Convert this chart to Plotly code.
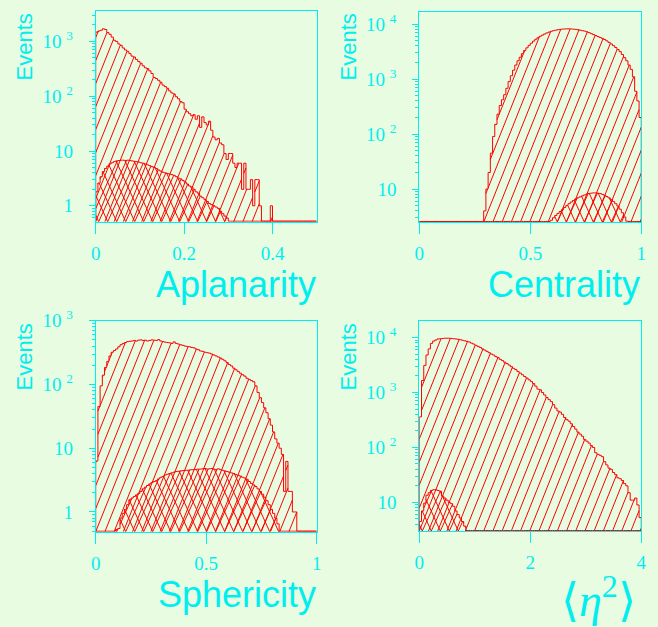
import numpy as np
import plotly.graph_objects as go

W, H = 658, 627
BG = "#e8fce2"
CY = "#00eeee"
RED = "#ff0000"

# ---------------- data (bin contents, 100 bins per histogram) ----------------
apl_all = [1480, 1550, 1600, 1700, 1650, 1450, 1350, 1200, 1050, 1000,
           900, 850, 760, 700, 660, 600, 540, 520, 470, 430,
           400, 360, 330, 320, 290, 260, 220, 210, 195, 180,
           160, 150, 140, 125, 115, 110, 98, 90, 80, 76,
           58, 52, 48, 44, 46, 38, 44, 27, 42, 33,
           30, 35, 24, 18, 16, 17, 14, 13, 9, 7,
           9, 9, 6, 5, 6, 6, 2, 6, 2, 2,
           3, 1, 3, 3, 1, 0, 0, 0, 0, 1,
           0, 0, 0, 0, 0, 0, 0, 0, 0, 0,
           0, 0, 0, 0, 0, 0, 0, 0, 0, 0]
apl_sig = [1.8, 2.6, 3.4, 4.2, 4.8, 5.3, 5.8, 6.1, 6.4, 6.6,
           6.7, 6.8, 6.8, 6.7, 6.8, 6.7, 6.6, 6.5, 6.4, 6.3,
           6.1, 6.0, 5.8, 5.6, 5.4, 5.2, 5.0, 4.8, 4.5, 4.3,
           4.1, 4.0, 3.9, 3.8, 3.7, 3.6, 3.4, 3.2, 3.1, 2.9,
           2.7, 2.5, 2.3, 2.2, 2.0, 1.8, 1.7, 1.5, 1.4, 1.3,
           1.2, 1.1, 1.05, 1.0, 0.95, 0.9, 0.8, 0.72, 0.65, 0.6,
           0, 0, 0, 0, 0, 0, 0, 0, 0, 0,
           0, 0, 0, 0, 0, 0, 0, 0, 0, 0,
           0, 0, 0, 0, 0, 0, 0, 0, 0, 0,
           0, 0, 0, 0, 0, 0, 0, 0, 0, 0]

cen_all = [0, 0, 0, 0, 0, 0, 0, 0, 0, 0,
           0, 0, 0, 0, 0, 0, 0, 0, 0, 0,
           0, 0, 0, 0, 0, 0, 0, 0, 0, 4,
           10, 20, 45, 90, 150, 230, 330, 420, 520, 680,
           900, 1150, 1450, 1800, 2150, 2500, 2900, 3300, 3700, 4100,
           4500, 4900, 5300, 5650, 6000, 6300, 6600, 6900, 7150, 7400,
           7600, 7750, 7900, 8000, 8100, 8150, 8200, 8200, 8150, 8100,
           8000, 7900, 7750, 7600, 7450, 7250, 7000, 6700, 6450, 6200,
           5950, 5700, 5500, 5250, 4950, 4650, 4350, 4050, 3750, 3450,
           3150, 2800, 2450, 2150, 1800, 1500, 1100, 600, 400, 200]
cen_sig = [0, 0, 0, 0, 0, 0, 0, 0, 0, 0,
           0, 0, 0, 0, 0, 0, 0, 0, 0, 0,
           0, 0, 0, 0, 0, 0, 0, 0, 0, 0,
           0, 0, 0, 0, 0, 0, 0, 0, 0, 0,
           0, 0, 0, 0, 0, 0, 0, 0, 0, 0,
           0, 0, 0, 0, 0, 0, 0, 0, 0, 2.7,
           3.0, 3.3, 3.6, 3.9, 4.2, 4.6, 5.0, 5.4, 5.8, 6.2,
           6.6, 6.9, 7.2, 7.5, 7.8, 8.1, 8.3, 8.4, 8.5, 8.5,
           8.4, 8.3, 8.0, 7.7, 7.3, 6.9, 6.4, 5.9, 5.4, 4.9,
           4.3, 3.7, 3.1, 2.6, 0, 0, 0, 0, 0, 0]

sph_all = [6.3, 45, 95, 140, 185, 230, 280, 320, 340, 360,
           390, 420, 440, 455, 470, 475, 480, 490, 480, 495,
           500, 490, 495, 480, 490, 500, 495, 490, 505, 480,
           470, 460, 455, 450, 440, 465, 440, 430, 420, 410,
           400, 395, 390, 380, 375, 360, 350, 335, 330, 320,
           315, 310, 300, 290, 280, 270, 260, 248, 235, 220,
           205, 195, 180, 170, 160, 150, 142, 135, 125, 120,
           115, 110, 95, 75, 62, 52, 43, 36, 29, 23,
           18, 14, 12, 10, 8, 2.1, 6.2, 2.1, 2.1, 1.0,
           1.0, 0, 0, 0, 0, 0, 0, 0, 0, 0]
sph_sig = [0, 0, 0, 0, 0, 0, 0, 0, 0, 0.53,
           0.55, 0.8, 0.95, 1.1, 1.3, 1.55, 1.65, 1.75, 1.85, 1.95,
           2.1, 2.3, 2.45, 2.6, 2.75, 2.9, 3.0, 3.1, 3.3, 3.5,
           3.6, 3.8, 3.9, 4.0, 4.1, 4.2, 4.3, 4.35, 4.4, 4.45,
           4.5, 4.5, 4.55, 4.6, 4.6, 4.65, 4.7, 4.7, 4.75, 4.8,
           4.7, 4.75, 4.8, 4.7, 4.6, 4.75, 4.6, 4.5, 4.4, 4.3,
           4.2, 4.1, 4.0, 3.85, 3.75, 3.65, 3.5, 3.4, 3.25, 3.0,
           2.8, 2.65, 2.5, 2.3, 2.1, 1.9, 1.7, 1.5, 1.3, 1.1,
           0.95, 0.8, 0.65, 0, 0, 0, 0, 0, 0, 0,
           0, 0, 0, 0, 0, 0, 0, 0, 0, 0]

eta_all = [360, 1650, 3100, 4800, 6200, 7800, 8600, 9000, 9400, 9500,
           9600, 9700, 9700, 9700, 9600, 9500, 9400, 9300, 9100, 8900,
           8700, 8500, 8300, 7900, 7600, 7200, 6900, 6600, 6200, 5900,
           5600, 5300, 5000, 4800, 4500, 4300, 4000, 3800, 3550, 3350,
           3150, 2950, 2750, 2600, 2400, 2250, 2100, 1950, 1830, 1700,
           1580, 1450, 1300, 1150, 1120, 1000, 900, 810, 740, 680,
           600, 520, 460, 440, 400, 350, 320, 300, 270, 240,
           215, 190, 175, 160, 140, 130, 120, 108, 100, 80,
           75, 72, 68, 55, 48, 42, 40, 35, 32, 28,
           27, 25, 22, 20, 15, 11, 11, 12, 9, 5.3]
eta_sig = [4.5, 7.0, 9.7, 13.5, 15, 16.5, 17, 17, 16.5, 16,
           13, 12, 11, 10, 9.5, 8.5, 7, 6, 5.2, 4.5,
           3.7, 0, 0, 0, 0, 0, 0, 0, 0, 0,
           0, 0, 0, 0, 0, 0, 0, 0, 0, 0,
           0, 0, 0, 0, 0, 0, 0, 0, 0, 0,
           0, 0, 0, 0, 0, 0, 0, 0, 0, 0,
           0, 0, 0, 0, 0, 0, 0, 0, 0, 0,
           0, 0, 0, 0, 0, 0, 0, 0, 0, 0,
           0, 0, 0, 0, 0, 0, 0, 0, 0, 0,
           0, 0, 0, 0, 0, 0, 0, 0, 0, 0]

# tick labels / titles
apl_xticks = [0, 0.2, 0.4]
apl_xlabels = ["0", "0.2", "0.4"]
unit_xticks = [0, 0.5, 1]
unit_xlabels = ["0", "0.5", "1"]
eta_xticks = [0, 2, 4]
eta_xlabels = ["0", "2", "4"]
yticks_low = [1, 10, 100, 1000]
ylabels_low = ["1", "10", "10 <sup>2</sup>", "10 <sup>3</sup>"]
yticks_high = [10, 100, 1000, 10000]
ylabels_high = ["10", "10 <sup>2</sup>", "10 <sup>3</sup>", "10 <sup>4</sup>"]
titles = ["Aplanarity", "Centrality", "Sphericity", "\u27e8<i>\u03b7</i><sup>2</sup>\u27e9"]
ylabel = "Events"

panels = [
    dict(big=apl_all, sig=apl_sig, xr=(0, 0.5), yr=(-0.29, 3.55),
         xt=apl_xticks, xl=apl_xlabels, yt=yticks_low, yl=ylabels_low,
         px=(95.7, 316.7), py=(11.3, 221.7)),
    dict(big=cen_all, sig=cen_sig, xr=(0, 1), yr=(0.40, 4.22),
         xt=unit_xticks, xl=unit_xlabels, yt=yticks_high, yl=ylabels_high,
         px=(419.3, 641.3), py=(12.0, 222.0)),
    dict(big=sph_all, sig=sph_sig, xr=(0, 1), yr=(-0.31, 3.0),
         xt=unit_xticks, xl=unit_xlabels, yt=yticks_low, yl=ylabels_low,
         px=(95.7, 316.7), py=(320.7, 531.7)),
    dict(big=eta_all, sig=eta_sig, xr=(0, 4), yr=(0.48, 4.30),
         xt=eta_xticks, xl=eta_xlabels, yt=yticks_high, yl=ylabels_high,
         px=(419.3, 641.3), py=(321.0, 531.0)),
]

fig = go.Figure()
tickfont = dict(family="Liberation Serif, Times New Roman, serif", size=19, color=CY)


def step_xy(vals, x0, x1, floor):
    v = np.asarray(vals, dtype=float)
    n = len(v)
    edges = np.linspace(x0, x1, n + 1)
    v = np.where(v > 0, v, floor)
    xs = np.concatenate([[x0], edges, [x1]])
    ys = np.concatenate([[floor], v, [v[-1]], [floor]])
    return xs, ys


def hatch(vals, xr, yr, wpx, hpx, slope, spacing, phase=0.0):
    """Hatch lines (slope in screen pixels) clipped to the area under a histogram."""
    v = np.asarray(vals, dtype=float)
    n = len(v)
    safe = np.where(v > 0, v, 1.0)
    lvl = np.where(v > 0, (np.log10(safe) - yr[0]) / (yr[1] - yr[0]) * hpx, -1.0)
    lvl = np.minimum(lvl, hpx)
    bw = wpx / n
    s = abs(slope)
    if slope > 0:
        cs = np.arange(phase - np.ceil(hpx / s / spacing + 1) * spacing, wpx, spacing)
    else:
        cs = np.arange(phase, wpx + hpx / s + spacing, spacing)
    xs, ys = [], []
    for c in cs:
        ivs = []
        for j in range(n):
            if lvl[j] <= 0:
                continue
            ua, ub = j * bw, (j + 1) * bw
            if slope > 0:
                a, b = max(ua, c), min(ub, c + lvl[j] / s)
            else:
                a, b = max(ua, c - lvl[j] / s), min(ub, c)
            if b > a:
                if ivs and abs(ivs[-1][1] - a) < 1e-9:
                    ivs[-1][1] = b
                else:
                    ivs.append([a, b])
        for a, b in ivs:
            for u in (a, b):
                vv = slope * (u - c)
                xs.append(xr[0] + u / wpx * (xr[1] - xr[0]))
                ys.append(10 ** (yr[0] + vv / hpx * (yr[1] - yr[0])))
            xs.append(None)
            ys.append(None)
    return xs, ys


for i, p in enumerate(panels, start=1):
    xa = "x" if i == 1 else f"x{i}"
    ya = "y" if i == 1 else f"y{i}"
    wpx = p["px"][1] - p["px"][0]
    hpx = p["py"][1] - p["py"][0]
    # empty bins are drawn half a pixel above the lower frame edge
    floor = 10 ** (p["yr"][0] + 0.5 / hpx * (p["yr"][1] - p["yr"][0]))

    # hatching of the full sample
    hx, hy = hatch(p["big"], p["xr"], p["yr"], wpx, hpx, 2.5, 9.2)
    fig.add_trace(go.Scatter(x=hx, y=hy, xaxis=xa, yaxis=ya, mode="lines",
                             line=dict(color=RED, width=1), showlegend=False,
                             hoverinfo="skip", connectgaps=False))
    # cross hatching of the selected sample
    for sl in (2.2, -2.2):
        hx, hy = hatch(p["sig"], p["xr"], p["yr"], wpx, hpx, sl, 9.0, 3.0)
        fig.add_trace(go.Scatter(x=hx, y=hy, xaxis=xa, yaxis=ya, mode="lines",
                                 line=dict(color=RED, width=1), showlegend=False,
                                 hoverinfo="skip", connectgaps=False))
    # histogram outlines
    for vals in (p["big"], p["sig"]):
        xs, ys = step_xy(vals, p["xr"][0], p["xr"][1], floor)
        fig.add_trace(go.Scatter(
            x=xs, y=ys, xaxis=xa, yaxis=ya, mode="lines",
            line=dict(color=RED, width=1, shape="hv"),
            showlegend=False, hoverinfo="skip"))

    lo = int(np.floor(p["yr"][0]))
    hi = int(np.ceil(p["yr"][1]))
    minor_vals = [k * 10 ** d for d in range(lo, hi + 1) for k in range(2, 10)]

    xkey = "xaxis" if i == 1 else f"xaxis{i}"
    ykey = "yaxis" if i == 1 else f"yaxis{i}"
    fig.layout[xkey] = dict(
        domain=[p["px"][0] / W, p["px"][1] / W], anchor=ya, automargin=False,
        range=list(p["xr"]), showgrid=False, zeroline=False,
        showline=True, linecolor=CY, linewidth=1, mirror=True,
        ticks="outside", ticklen=11, tickcolor=CY, tickwidth=1,
        tickmode="array", tickvals=p["xt"], ticktext=p["xl"],
        tickfont=tickfont, ticklabelstandoff=3)
    fig.layout[ykey] = dict(
        domain=[1 - p["py"][1] / H, 1 - p["py"][0] / H], anchor=xa, automargin=False,
        type="log", range=list(p["yr"]), showgrid=False, zeroline=False,
        showline=True, linecolor=CY, linewidth=1, mirror=True,
        ticks="outside", ticklen=6, tickcolor=CY, tickwidth=1,
        tickmode="array", tickvals=p["yt"], ticktext=p["yl"],
        tickfont=tickfont, ticklabelstandoff=12,
        minor=dict(ticks="outside", ticklen=3, tickcolor=CY, tickmode="array",
                   tickvals=minor_vals, showgrid=False))

# axis titles
title_font = dict(family="Liberation Sans, Arial, sans-serif", size=36, color=CY)
title_pos = [(318, 284.5), (641.5, 284.5), (318, 594)]
for k in range(3):
    fig.add_annotation(text=titles[k], xref="paper", yref="paper",
                       x=title_pos[k][0] / W, y=1 - title_pos[k][1] / H,
                       xanchor="right", yanchor="middle", showarrow=False,
                       font=title_font)
fig.add_annotation(text=titles[3], xref="paper", yref="paper",
                   x=598.5 / W, y=1 - 597 / H, xanchor="center", yanchor="middle",
                   showarrow=False,
                   font=dict(family="Liberation Serif, DejaVu Serif, serif", size=46, color=CY))

ev_font = dict(family="Liberation Sans, Arial, sans-serif", size=22, color=CY)
for (ex, ey) in [(24, 12), (348, 12), (24, 322), (348, 322)]:
    fig.add_annotation(text=ylabel, xref="paper", yref="paper",
                       x=ex / W, y=1 - ey / H, xanchor="center", yanchor="top",
                       textangle=-90, showarrow=False, font=ev_font)

fig.update_layout(template="none", width=W, height=H, margin=dict(l=0, r=0, t=0, b=0, pad=0),
                  paper_bgcolor=BG, plot_bgcolor=BG, showlegend=False)
fig.write_html("out.html", config={"displayModeBar": False},
               post_script="document.body.style.margin='0';document.body.style.overflow='hidden';")
